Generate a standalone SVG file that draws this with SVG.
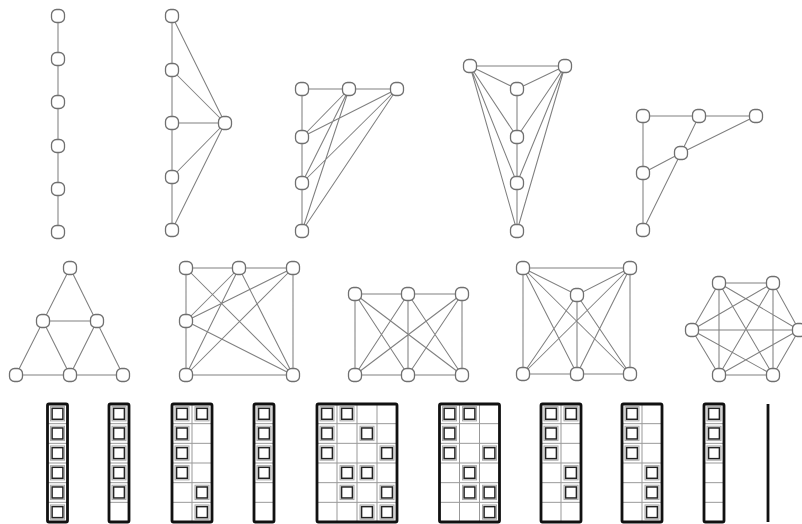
<svg xmlns="http://www.w3.org/2000/svg" xmlns:xlink="http://www.w3.org/1999/xlink" width="802" height="524" viewBox="0 0 802 524">
<defs>
<style>
.e{stroke:#808080;stroke-width:1.05;fill:none}
.n{fill:#fff;stroke:#707070;stroke-width:1.3}
.b{fill:none;stroke:#111;stroke-width:2.8}
.g{fill:none;stroke:#999;stroke-width:1}
.s{fill:none;stroke:#222;stroke-width:1.5}
.sh{fill:none;stroke:#aaa;stroke-width:1}
</style>
<rect id="nd" x="-6.5" y="-6.5" width="13" height="13" rx="5" class="n"/>
<g id="sq"><rect x="3" y="2.6" width="14" height="14.3" class="sh"/><rect x="4.6" y="4.3" width="10.8" height="11" class="s"/></g>
<path id="h1" d="M0 19.67H20M0 39.33H20M0 59H20M0 78.67H20M0 98.33H20" class="g"/>
</defs>
<rect width="802" height="524" fill="#fff"/>

<!-- Graph 1 -->
<g id="g1">
<g id="g1-edges"><path class="e" d="M58 16V232"/></g>
<g id="g1n1"><use xlink:href="#nd" x="58" y="16"/></g>
<g id="g1n2"><use xlink:href="#nd" x="58" y="59"/></g>
<g id="g1n3"><use xlink:href="#nd" x="58" y="102"/></g>
<g id="g1n4"><use xlink:href="#nd" x="58" y="146"/></g>
<g id="g1n5"><use xlink:href="#nd" x="58" y="189"/></g>
<g id="g1n6"><use xlink:href="#nd" x="58" y="232"/></g>
</g>

<!-- Graph 2 -->
<g id="g2">
<g id="g2-edges"><path class="e" d="M172 16V230M225 123L172 16M225 123L172 70M225 123H172M225 123L172 177M225 123L172 230"/></g>
<g id="g2n1"><use xlink:href="#nd" x="172" y="16"/></g>
<g id="g2n2"><use xlink:href="#nd" x="172" y="70"/></g>
<g id="g2n3"><use xlink:href="#nd" x="172" y="123"/></g>
<g id="g2n4"><use xlink:href="#nd" x="172" y="177"/></g>
<g id="g2n5"><use xlink:href="#nd" x="172" y="230"/></g>
<g id="g2n6"><use xlink:href="#nd" x="225" y="123"/></g>
</g>

<!-- Graph 3 -->
<g id="g3">
<g id="g3-edges"><path class="e" d="M302 89H397M302 89V231M349 89L302 137M349 89L302 183M349 89L302 231M397 89L302 137M397 89L302 183M397 89L302 231"/></g>
<g id="g3n1"><use xlink:href="#nd" x="302" y="89"/></g>
<g id="g3n2"><use xlink:href="#nd" x="349" y="89"/></g>
<g id="g3n3"><use xlink:href="#nd" x="397" y="89"/></g>
<g id="g3n4"><use xlink:href="#nd" x="302" y="137"/></g>
<g id="g3n5"><use xlink:href="#nd" x="302" y="183"/></g>
<g id="g3n6"><use xlink:href="#nd" x="302" y="231"/></g>
</g>

<!-- Graph 4 -->
<g id="g4">
<g id="g4-edges"><path class="e" d="M470 66H565M470 66L517 89M565 66L517 89M517 89V231M470 66L517 137M470 66L517 183M470 66L517 231M565 66L517 137M565 66L517 183M565 66L517 231"/></g>
<g id="g4n1"><use xlink:href="#nd" x="470" y="66"/></g>
<g id="g4n2"><use xlink:href="#nd" x="565" y="66"/></g>
<g id="g4n3"><use xlink:href="#nd" x="517" y="89"/></g>
<g id="g4n4"><use xlink:href="#nd" x="517" y="137"/></g>
<g id="g4n5"><use xlink:href="#nd" x="517" y="183"/></g>
<g id="g4n6"><use xlink:href="#nd" x="517" y="231"/></g>
</g>

<!-- Graph 5 -->
<g id="g5">
<g id="g5-edges"><path class="e" d="M643 116H756M643 116V230M699 116L681 153M756 116L681 153M681 153L643 173M681 153L643 230"/></g>
<g id="g5n1"><use xlink:href="#nd" x="643" y="116"/></g>
<g id="g5n2"><use xlink:href="#nd" x="699" y="116"/></g>
<g id="g5n3"><use xlink:href="#nd" x="756" y="116"/></g>
<g id="g5n4"><use xlink:href="#nd" x="681" y="153"/></g>
<g id="g5n5"><use xlink:href="#nd" x="643" y="173"/></g>
<g id="g5n6"><use xlink:href="#nd" x="643" y="230"/></g>
</g>

<!-- Graph 6 -->
<g id="g6">
<g id="g6-edges"><path class="e" d="M70 268L16 375H123ZM43 321H97M43 321L70 375L97 321"/></g>
<g id="g6n1"><use xlink:href="#nd" x="70" y="268"/></g>
<g id="g6n2"><use xlink:href="#nd" x="43" y="321"/></g>
<g id="g6n3"><use xlink:href="#nd" x="97" y="321"/></g>
<g id="g6n4"><use xlink:href="#nd" x="16" y="375"/></g>
<g id="g6n5"><use xlink:href="#nd" x="70" y="375"/></g>
<g id="g6n6"><use xlink:href="#nd" x="123" y="375"/></g>
</g>

<!-- Graph 7 -->
<g id="g7">
<g id="g7-edges"><path class="e" d="M186 268H293V375H186ZM186 268L293 375M239 268L186 321M239 268L186 375M239 268L293 375M293 268L186 321M293 268L186 375M186 321L293 375"/></g>
<g id="g7n1"><use xlink:href="#nd" x="186" y="268"/></g>
<g id="g7n2"><use xlink:href="#nd" x="239" y="268"/></g>
<g id="g7n3"><use xlink:href="#nd" x="293" y="268"/></g>
<g id="g7n4"><use xlink:href="#nd" x="186" y="321"/></g>
<g id="g7n5"><use xlink:href="#nd" x="186" y="375"/></g>
<g id="g7n6"><use xlink:href="#nd" x="293" y="375"/></g>
</g>

<!-- Graph 8 -->
<g id="g8">
<g id="g8-edges"><path class="e" d="M355 294H462V375H355ZM408 294V375M355 294L408 375M355 294L462 375M408 294L355 375M408 294L462 375M462 294L355 375M462 294L408 375"/></g>
<g id="g8n1"><use xlink:href="#nd" x="355" y="294"/></g>
<g id="g8n2"><use xlink:href="#nd" x="408" y="294"/></g>
<g id="g8n3"><use xlink:href="#nd" x="462" y="294"/></g>
<g id="g8n4"><use xlink:href="#nd" x="355" y="375"/></g>
<g id="g8n5"><use xlink:href="#nd" x="408" y="375"/></g>
<g id="g8n6"><use xlink:href="#nd" x="462" y="375"/></g>
</g>

<!-- Graph 9 -->
<g id="g9">
<g id="g9-edges"><path class="e" d="M523 268H630V374H523ZM523 268L577 295L630 268M577 295V374M523 268L577 374M523 268L630 374M630 268L523 374M630 268L577 374M577 295L523 374M577 295L630 374"/></g>
<g id="g9n1"><use xlink:href="#nd" x="523" y="268"/></g>
<g id="g9n2"><use xlink:href="#nd" x="630" y="268"/></g>
<g id="g9n3"><use xlink:href="#nd" x="577" y="295"/></g>
<g id="g9n4"><use xlink:href="#nd" x="523" y="374"/></g>
<g id="g9n5"><use xlink:href="#nd" x="577" y="374"/></g>
<g id="g9n6"><use xlink:href="#nd" x="630" y="374"/></g>
</g>

<!-- Graph 10 -->
<g id="g10">
<g id="g10-edges"><path class="e" d="M719 283H773L799 330L773 375H719L692 330ZM719 283V375M773 283V375M692 330H799M719 283L773 375M773 283L719 375M719 283L799 330M773 283L692 330M692 330L773 375M799 330L719 375"/></g>
<g id="g10n1"><use xlink:href="#nd" x="719" y="283"/></g>
<g id="g10n2"><use xlink:href="#nd" x="773" y="283"/></g>
<g id="g10n3"><use xlink:href="#nd" x="692" y="330"/></g>
<g id="g10n4"><use xlink:href="#nd" x="799" y="330"/></g>
<g id="g10n5"><use xlink:href="#nd" x="719" y="375"/></g>
<g id="g10n6"><use xlink:href="#nd" x="773" y="375"/></g>
</g>

<!-- Bottom row grids -->
<g id="m1" transform="translate(47.5,404)">
<use xlink:href="#h1"/>
<use xlink:href="#sq" y="0"/><use xlink:href="#sq" y="19.67"/><use xlink:href="#sq" y="39.33"/><use xlink:href="#sq" y="59"/><use xlink:href="#sq" y="78.67"/><use xlink:href="#sq" y="98.33"/>
<rect class="b" x="0" y="0" width="20" height="118" rx="1.5"/>
</g>
<g id="m2" transform="translate(109,404)">
<use xlink:href="#h1"/>
<use xlink:href="#sq" y="0"/><use xlink:href="#sq" y="19.67"/><use xlink:href="#sq" y="39.33"/><use xlink:href="#sq" y="59"/><use xlink:href="#sq" y="78.67"/>
<rect class="b" x="0" y="0" width="20" height="118" rx="1.5"/>
</g>
<g id="m3" transform="translate(172,404)">
<use xlink:href="#h1"/><use xlink:href="#h1" x="20"/><path class="g" d="M20 0V118"/>
<use xlink:href="#sq" x="0" y="0"/><use xlink:href="#sq" x="20" y="0"/><use xlink:href="#sq" x="0" y="19.67"/><use xlink:href="#sq" x="0" y="39.33"/><use xlink:href="#sq" x="0" y="59"/><use xlink:href="#sq" x="20" y="78.67"/><use xlink:href="#sq" x="20" y="98.33"/>
<rect class="b" x="0" y="0" width="40" height="118" rx="1.5"/>
</g>
<g id="m4" transform="translate(254,404)">
<use xlink:href="#h1"/>
<use xlink:href="#sq" y="0"/><use xlink:href="#sq" y="19.67"/><use xlink:href="#sq" y="39.33"/><use xlink:href="#sq" y="59"/>
<rect class="b" x="0" y="0" width="20" height="118" rx="1.5"/>
</g>
<g id="m5" transform="translate(317,404)">
<use xlink:href="#h1"/><use xlink:href="#h1" x="20"/><use xlink:href="#h1" x="40"/><use xlink:href="#h1" x="60"/><path class="g" d="M20 0V118M40 0V118M60 0V118"/>
<use xlink:href="#sq" x="0" y="0"/><use xlink:href="#sq" x="20" y="0"/>
<use xlink:href="#sq" x="0" y="19.67"/><use xlink:href="#sq" x="40" y="19.67"/>
<use xlink:href="#sq" x="0" y="39.33"/><use xlink:href="#sq" x="60" y="39.33"/>
<use xlink:href="#sq" x="20" y="59"/><use xlink:href="#sq" x="40" y="59"/>
<use xlink:href="#sq" x="20" y="78.67"/><use xlink:href="#sq" x="60" y="78.67"/>
<use xlink:href="#sq" x="40" y="98.33"/><use xlink:href="#sq" x="60" y="98.33"/>
<rect class="b" x="0" y="0" width="80" height="118" rx="1.5"/>
</g>
<g id="m6" transform="translate(439.5,404)">
<use xlink:href="#h1"/><use xlink:href="#h1" x="20"/><use xlink:href="#h1" x="40"/><path class="g" d="M20 0V118M40 0V118"/>
<use xlink:href="#sq" x="0" y="0"/><use xlink:href="#sq" x="20" y="0"/>
<use xlink:href="#sq" x="0" y="19.67"/>
<use xlink:href="#sq" x="0" y="39.33"/><use xlink:href="#sq" x="40" y="39.33"/>
<use xlink:href="#sq" x="20" y="59"/>
<use xlink:href="#sq" x="20" y="78.67"/><use xlink:href="#sq" x="40" y="78.67"/>
<use xlink:href="#sq" x="40" y="98.33"/>
<rect class="b" x="0" y="0" width="60" height="118" rx="1.5"/>
</g>
<g id="m7" transform="translate(541,404)">
<use xlink:href="#h1"/><use xlink:href="#h1" x="20"/><path class="g" d="M20 0V118"/>
<use xlink:href="#sq" x="0" y="0"/><use xlink:href="#sq" x="20" y="0"/>
<use xlink:href="#sq" x="0" y="19.67"/><use xlink:href="#sq" x="0" y="39.33"/>
<use xlink:href="#sq" x="20" y="59"/><use xlink:href="#sq" x="20" y="78.67"/>
<rect class="b" x="0" y="0" width="40" height="118" rx="1.5"/>
</g>
<g id="m8" transform="translate(622,404)">
<use xlink:href="#h1"/><use xlink:href="#h1" x="20"/><path class="g" d="M20 0V118"/>
<use xlink:href="#sq" x="0" y="0"/><use xlink:href="#sq" x="0" y="19.67"/><use xlink:href="#sq" x="0" y="39.33"/>
<use xlink:href="#sq" x="20" y="59"/><use xlink:href="#sq" x="20" y="78.67"/><use xlink:href="#sq" x="20" y="98.33"/>
<rect class="b" x="0" y="0" width="40" height="118" rx="1.5"/>
</g>
<g id="m9" transform="translate(704,404)">
<use xlink:href="#h1"/>
<use xlink:href="#sq" y="0"/><use xlink:href="#sq" y="19.67"/><use xlink:href="#sq" y="39.33"/>
<rect class="b" x="0" y="0" width="20" height="118" rx="1.5"/>
</g>
<g id="m10"><path d="M768 404V522" stroke="#111" stroke-width="2.8"/></g>
</svg>
